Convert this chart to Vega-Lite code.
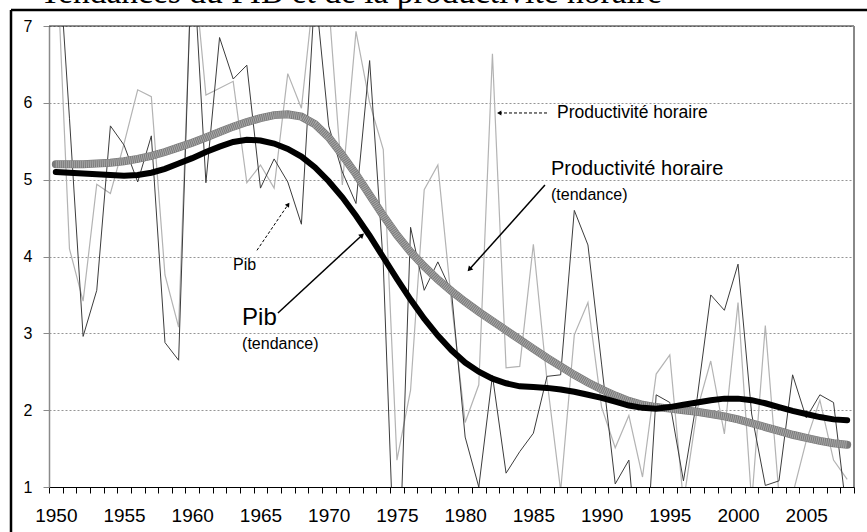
{
  "$schema": "https://vega.github.io/schema/vega-lite/v6.json",
  "width": 805,
  "height": 461,
  "autosize": {"type": "none"},
  "padding": {"left": 49, "top": 26, "right": 13, "bottom": 45},
  "background": "white",
  "config": {
    "view": {"stroke": null},
    "axis": {"labelOverlap": false, "labelFlush": false, "labelBound": false},
    "axisX": {
      "labelFont": "Liberation Sans",
      "labelFontSize": 19,
      "labelColor": "#000000",
      "labelPadding": 13,
      "ticks": true,
      "tickSize": 6,
      "tickColor": "#000000",
      "tickWidth": 1,
      "domainColor": "#000000",
      "domainWidth": 1,
      "grid": false
    },
    "axisY": {
      "grid": true,
      "gridColor": "#7a7a7a",
      "gridDash": [2, 2],
      "gridWidth": 0.8,
      "domainColor": "#8a8a8a",
      "domainWidth": 1.5,
      "ticks": true,
      "tickColor": "#8a8a8a",
      "tickWidth": 1,
      "tickSize": 6,
      "labelFont": "Liberation Sans",
      "labelFontSize": 16,
      "labelColor": "#000000",
      "labelPadding": 11
    }
  },
  "datasets": {
    "d": [
      {"year": 1950, "pib": 8.5, "prod": 8.2, "pib_t": 5.10, "prod_t": 5.20},
      {"year": 1951, "pib": 5.8, "prod": 4.10, "pib_t": 5.09, "prod_t": 5.20},
      {"year": 1952, "pib": 2.96, "prod": 3.42, "pib_t": 5.08, "prod_t": 5.20},
      {"year": 1953, "pib": 3.56, "prod": 4.94, "pib_t": 5.07, "prod_t": 5.21},
      {"year": 1954, "pib": 5.70, "prod": 4.82, "pib_t": 5.06, "prod_t": 5.22},
      {"year": 1955, "pib": 5.45, "prod": 5.47, "pib_t": 5.05, "prod_t": 5.24},
      {"year": 1956, "pib": 4.97, "prod": 6.17, "pib_t": 5.06, "prod_t": 5.27},
      {"year": 1957, "pib": 5.57, "prod": 6.08, "pib_t": 5.09, "prod_t": 5.31},
      {"year": 1958, "pib": 2.88, "prod": 3.76, "pib_t": 5.14, "prod_t": 5.36},
      {"year": 1959, "pib": 2.65, "prod": 3.08, "pib_t": 5.21, "prod_t": 5.42},
      {"year": 1960, "pib": 8.1, "prod": 8.0, "pib_t": 5.28, "prod_t": 5.48},
      {"year": 1961, "pib": 4.96, "prod": 6.10, "pib_t": 5.36, "prod_t": 5.55},
      {"year": 1962, "pib": 6.85, "prod": 6.19, "pib_t": 5.43, "prod_t": 5.62},
      {"year": 1963, "pib": 6.31, "prod": 6.28, "pib_t": 5.49, "prod_t": 5.69},
      {"year": 1964, "pib": 6.49, "prod": 4.96, "pib_t": 5.52, "prod_t": 5.75},
      {"year": 1965, "pib": 4.89, "prod": 5.19, "pib_t": 5.51, "prod_t": 5.80},
      {"year": 1966, "pib": 5.27, "prod": 4.89, "pib_t": 5.47, "prod_t": 5.84},
      {"year": 1967, "pib": 4.97, "prod": 6.38, "pib_t": 5.40, "prod_t": 5.85},
      {"year": 1968, "pib": 4.42, "prod": 5.93, "pib_t": 5.30, "prod_t": 5.82},
      {"year": 1969, "pib": 7.5, "prod": 7.6, "pib_t": 5.16, "prod_t": 5.72},
      {"year": 1970, "pib": 5.7, "prod": 7.3, "pib_t": 4.98, "prod_t": 5.55},
      {"year": 1971, "pib": 5.1, "prod": 4.93, "pib_t": 4.77, "prod_t": 5.32},
      {"year": 1972, "pib": 4.69, "prod": 6.93, "pib_t": 4.53, "prod_t": 5.07},
      {"year": 1973, "pib": 6.55, "prod": 6.0, "pib_t": 4.27, "prod_t": 4.80},
      {"year": 1974, "pib": 3.9, "prod": 5.39, "pib_t": 3.99, "prod_t": 4.53},
      {"year": 1975, "pib": -1.0, "prod": 1.35, "pib_t": 3.71, "prod_t": 4.28},
      {"year": 1976, "pib": 4.38, "prod": 2.26, "pib_t": 3.44, "prod_t": 4.06},
      {"year": 1977, "pib": 3.56, "prod": 4.87, "pib_t": 3.19, "prod_t": 3.87},
      {"year": 1978, "pib": 3.93, "prod": 5.19, "pib_t": 2.97, "prod_t": 3.70},
      {"year": 1979, "pib": 3.54, "prod": 3.4, "pib_t": 2.78, "prod_t": 3.55},
      {"year": 1980, "pib": 1.65, "prod": 1.84, "pib_t": 2.62, "prod_t": 3.41},
      {"year": 1981, "pib": 1.0, "prod": 2.33, "pib_t": 2.50, "prod_t": 3.28},
      {"year": 1982, "pib": 2.45, "prod": 6.64, "pib_t": 2.41, "prod_t": 3.16},
      {"year": 1983, "pib": 1.18, "prod": 2.55, "pib_t": 2.35, "prod_t": 3.04},
      {"year": 1984, "pib": 1.46, "prod": 2.57, "pib_t": 2.31, "prod_t": 2.92},
      {"year": 1985, "pib": 1.7, "prod": 4.16, "pib_t": 2.30, "prod_t": 2.80},
      {"year": 1986, "pib": 2.44, "prod": 2.39, "pib_t": 2.29, "prod_t": 2.68},
      {"year": 1987, "pib": 2.46, "prod": 0.95, "pib_t": 2.27, "prod_t": 2.57},
      {"year": 1988, "pib": 4.6, "prod": 2.98, "pib_t": 2.24, "prod_t": 2.46},
      {"year": 1989, "pib": 4.15, "prod": 3.4, "pib_t": 2.20, "prod_t": 2.36},
      {"year": 1990, "pib": 2.6, "prod": 2.04, "pib_t": 2.16, "prod_t": 2.27},
      {"year": 1991, "pib": 1.04, "prod": 1.51, "pib_t": 2.11, "prod_t": 2.19},
      {"year": 1992, "pib": 1.35, "prod": 1.93, "pib_t": 2.06, "prod_t": 2.12},
      {"year": 1993, "pib": -0.7, "prod": 1.13, "pib_t": 2.03, "prod_t": 2.07},
      {"year": 1994, "pib": 2.2, "prod": 2.47, "pib_t": 2.02, "prod_t": 2.04},
      {"year": 1995, "pib": 2.1, "prod": 2.72, "pib_t": 2.04, "prod_t": 2.02},
      {"year": 1996, "pib": 1.08, "prod": 0.8, "pib_t": 2.07, "prod_t": 2.00},
      {"year": 1997, "pib": 2.15, "prod": 2.0, "pib_t": 2.10, "prod_t": 1.98},
      {"year": 1998, "pib": 3.5, "prod": 2.64, "pib_t": 2.13, "prod_t": 1.95},
      {"year": 1999, "pib": 3.3, "prod": 1.69, "pib_t": 2.15, "prod_t": 1.92},
      {"year": 2000, "pib": 3.9, "prod": 3.4, "pib_t": 2.15, "prod_t": 1.88},
      {"year": 2001, "pib": 1.95, "prod": 0.8, "pib_t": 2.13, "prod_t": 1.83},
      {"year": 2002, "pib": 1.02, "prod": 3.1, "pib_t": 2.09, "prod_t": 1.78},
      {"year": 2003, "pib": 1.08, "prod": 0.9, "pib_t": 2.04, "prod_t": 1.73},
      {"year": 2004, "pib": 2.46, "prod": 0.9, "pib_t": 1.99, "prod_t": 1.68},
      {"year": 2005, "pib": 1.9, "prod": 1.6, "pib_t": 1.95, "prod_t": 1.64},
      {"year": 2006, "pib": 2.2, "prod": 2.13, "pib_t": 1.91, "prod_t": 1.60},
      {"year": 2007, "pib": 2.1, "prod": 1.35, "pib_t": 1.88, "prod_t": 1.57},
      {"year": 2008, "pib": 0.6, "prod": 1.1, "pib_t": 1.87, "prod_t": 1.55}
    ]
  },
  "data": {"name": "d"},
  "layer": [
    {
      "mark": {"type": "line", "color": "#b3b3b3", "strokeWidth": 1.2, "clip": true},
      "encoding": {
        "x": {
          "field": "year", "type": "quantitative", "title": null,
          "scale": {"domain": [1949.5, 2008.5], "nice": false, "zero": false},
          "axis": {
            "title": null,
            "tickCount": 200,
            "values": [1949.5, 1950.5, 1951.5, 1952.5, 1953.5, 1954.5, 1955.5, 1956.5, 1957.5, 1958.5, 1959.5, 1960.5, 1961.5, 1962.5, 1963.5, 1964.5, 1965.5, 1966.5, 1967.5, 1968.5, 1969.5, 1970.5, 1971.5, 1972.5, 1973.5, 1974.5, 1975.5, 1976.5, 1977.5, 1978.5, 1979.5, 1980.5, 1981.5, 1982.5, 1983.5, 1984.5, 1985.5, 1986.5, 1987.5, 1988.5, 1989.5, 1990.5, 1991.5, 1992.5, 1993.5, 1994.5, 1995.5, 1996.5, 1997.5, 1998.5, 1999.5, 2000.5, 2001.5, 2002.5, 2003.5, 2004.5, 2005.5, 2006.5, 2007.5, 2008.5],
            "labelExpr": "(datum.value + 0.5) % 5 == 0 && datum.value < 2008 ? '' + (datum.value + 0.5) : ''",
            "labelOffset": 6.82,
            "labelOverlap": false
          }
        },
        "y": {
          "field": "prod", "type": "quantitative", "title": null,
          "scale": {"domain": [1, 7], "nice": false, "zero": false},
          "axis": {"title": null, "tickCount": 20, "values": [1, 2, 3, 4, 5, 6, 7], "format": "d"}
        }
      }
    },
    {
      "mark": {"type": "line", "color": "#3c3c3c", "strokeWidth": 1, "clip": true},
      "encoding": {
        "x": {"field": "year", "type": "quantitative", "title": null, "scale": {"domain": [1949.5, 2008.5], "nice": false, "zero": false}},
        "y": {"field": "pib", "type": "quantitative", "title": null, "scale": {"domain": [1, 7], "nice": false, "zero": false}}
      }
    },
    {
      "mark": {"type": "line", "color": "#7a7a7a", "strokeWidth": 8, "clip": true, "strokeCap": "round"},
      "encoding": {
        "x": {"field": "year", "type": "quantitative", "title": null, "scale": {"domain": [1949.5, 2008.5], "nice": false, "zero": false}},
        "y": {"field": "prod_t", "type": "quantitative", "title": null, "scale": {"domain": [1, 7], "nice": false, "zero": false}}
      }
    },
    {
      "mark": {"type": "line", "color": "#a9a9a9", "strokeWidth": 7, "strokeDash": [1, 1], "clip": true},
      "encoding": {
        "x": {"field": "year", "type": "quantitative", "title": null, "scale": {"domain": [1949.5, 2008.5], "nice": false, "zero": false}},
        "y": {"field": "prod_t", "type": "quantitative", "title": null, "scale": {"domain": [1, 7], "nice": false, "zero": false}}
      }
    },
    {
      "mark": {"type": "line", "color": "#000000", "strokeWidth": 6, "clip": true, "strokeCap": "round"},
      "encoding": {
        "x": {"field": "year", "type": "quantitative", "title": null, "scale": {"domain": [1949.5, 2008.5], "nice": false, "zero": false}},
        "y": {"field": "pib_t", "type": "quantitative", "title": null, "scale": {"domain": [1, 7], "nice": false, "zero": false}}
      }
    },
    {
      "data": {"values": [{}]},
      "layer": [
        {
          "mark": {"type": "rule", "color": "#222222", "strokeWidth": 1.2},
          "encoding": {
            "x": {"datum": 1949.5, "type": "quantitative", "title": null},
            "x2": {"datum": 2008.5},
            "y": {"datum": 7, "type": "quantitative", "title": null}
          }
        },
        {
          "mark": {"type": "rule", "color": "#888888", "strokeWidth": 2},
          "encoding": {
            "x": {"datum": 2008.5, "type": "quantitative", "title": null},
            "y": {"datum": 1, "type": "quantitative", "title": null},
            "y2": {"datum": 7}
          }
        },
        {
          "mark": {"type": "rule", "color": "#000000", "strokeWidth": 2.5, "clip": false},
          "encoding": {
            "x": {"datum": 1946.715, "type": "quantitative", "title": null},
            "x2": {"datum": 2012},
            "y": {"datum": 7.208, "type": "quantitative", "title": null}
          }
        },
        {
          "mark": {"type": "rule", "color": "#000000", "strokeWidth": 2.5, "clip": false},
          "encoding": {
            "x": {"datum": 1946.715, "type": "quantitative", "title": null},
            "y": {"datum": 7.208, "type": "quantitative", "title": null},
            "y2": {"datum": 0.3}
          }
        },
        {
          "mark": {"type": "text", "text": "Tendances du PIB et de la productivité horaire", "align": "left", "baseline": "alphabetic", "font": "Liberation Serif", "fontSize": 33.5, "color": "#000000", "clip": false},
          "encoding": {
            "x": {"datum": 1948.84, "type": "quantitative", "title": null},
            "y": {"datum": 7.2994, "type": "quantitative", "title": null}
          }
        },
        {
          "mark": {"type": "rule", "color": "#000000", "strokeWidth": 1, "strokeDash": [3, 2]},
          "encoding": {
            "x": {"datum": 1986.0, "type": "quantitative", "title": null},
            "x2": {"datum": 1982.6},
            "y": {"datum": 5.868, "type": "quantitative", "title": null}
          }
        },
        {
          "mark": {"type": "point", "shape": "triangle", "filled": true, "color": "#000000", "size": 25, "opacity": 1, "angle": 270},
          "encoding": {
            "x": {"datum": 1982.55, "type": "quantitative", "title": null},
            "y": {"datum": 5.868, "type": "quantitative", "title": null}
          }
        },
        {
          "mark": {"type": "rule", "color": "#000000", "strokeWidth": 1, "strokeDash": [3, 2]},
          "encoding": {
            "x": {"datum": 1964.74, "type": "quantitative", "title": null},
            "x2": {"datum": 1967.0},
            "y": {"datum": 4.08, "type": "quantitative", "title": null},
            "y2": {"datum": 4.67}
          }
        },
        {
          "mark": {"type": "point", "shape": "triangle", "filled": true, "color": "#000000", "size": 25, "opacity": 1, "angle": 34.5},
          "encoding": {
            "x": {"datum": 1967.0, "type": "quantitative", "title": null},
            "y": {"datum": 4.67, "type": "quantitative", "title": null}
          }
        },
        {
          "mark": {"type": "rule", "color": "#000000", "strokeWidth": 1.5},
          "encoding": {
            "x": {"datum": 1966.28, "type": "quantitative", "title": null},
            "x2": {"datum": 1972.4},
            "y": {"datum": 3.265, "type": "quantitative", "title": null},
            "y2": {"datum": 4.27}
          }
        },
        {
          "mark": {"type": "point", "shape": "triangle", "filled": true, "color": "#000000", "size": 35, "opacity": 1, "angle": 47},
          "encoding": {
            "x": {"datum": 1972.4, "type": "quantitative", "title": null},
            "y": {"datum": 4.27, "type": "quantitative", "title": null}
          }
        },
        {
          "mark": {"type": "rule", "color": "#000000", "strokeWidth": 1.5},
          "encoding": {
            "x": {"datum": 1985.85, "type": "quantitative", "title": null},
            "x2": {"datum": 1980.35},
            "y": {"datum": 4.93, "type": "quantitative", "title": null},
            "y2": {"datum": 3.84}
          }
        },
        {
          "mark": {"type": "point", "shape": "triangle", "filled": true, "color": "#000000", "size": 35, "opacity": 1, "angle": 222},
          "encoding": {
            "x": {"datum": 1980.35, "type": "quantitative", "title": null},
            "y": {"datum": 3.84, "type": "quantitative", "title": null}
          }
        },
        {
          "mark": {"type": "text", "text": "Productivité horaire", "align": "left", "baseline": "middle", "font": "Liberation Sans", "fontSize": 17.5, "color": "#000000"},
          "encoding": {
            "x": {"datum": 1986.73, "type": "quantitative", "title": null},
            "y": {"datum": 5.868, "type": "quantitative", "title": null}
          }
        },
        {
          "mark": {"type": "text", "text": "Productivité horaire", "align": "left", "baseline": "middle", "font": "Liberation Sans", "fontSize": 20, "color": "#000000"},
          "encoding": {
            "x": {"datum": 1986.29, "type": "quantitative", "title": null},
            "y": {"datum": 5.139, "type": "quantitative", "title": null}
          }
        },
        {
          "mark": {"type": "text", "text": "(tendance)", "align": "left", "baseline": "middle", "font": "Liberation Sans", "fontSize": 16, "color": "#000000"},
          "encoding": {
            "x": {"datum": 1986.29, "type": "quantitative", "title": null},
            "y": {"datum": 4.80, "type": "quantitative", "title": null}
          }
        },
        {
          "mark": {"type": "text", "text": "Pib", "align": "left", "baseline": "middle", "font": "Liberation Sans", "fontSize": 16, "color": "#000000"},
          "encoding": {
            "x": {"datum": 1962.99, "type": "quantitative", "title": null},
            "y": {"datum": 3.89, "type": "quantitative", "title": null}
          }
        },
        {
          "mark": {"type": "text", "text": "Pib", "align": "left", "baseline": "middle", "font": "Liberation Sans", "fontSize": 24, "color": "#000000"},
          "encoding": {
            "x": {"datum": 1963.65, "type": "quantitative", "title": null},
            "y": {"datum": 3.20, "type": "quantitative", "title": null}
          }
        },
        {
          "mark": {"type": "text", "text": "(tendance)", "align": "left", "baseline": "middle", "font": "Liberation Sans", "fontSize": 16, "color": "#000000"},
          "encoding": {
            "x": {"datum": 1963.65, "type": "quantitative", "title": null},
            "y": {"datum": 2.86, "type": "quantitative", "title": null}
          }
        }
      ]
    }
  ]
}
